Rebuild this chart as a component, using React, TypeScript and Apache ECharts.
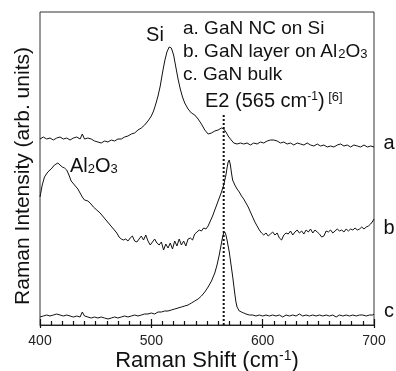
import React, { useEffect, useRef } from "react";
import * as echarts from "echarts";

const xRange = [400, 700];
const xTickStep = 100;
const yRange = [0, 313];
const e2Shift = 565;
const e2LineTop = 212;

const legendLines = ["a. GaN NC on Si", "b. GaN layer on Al", "c. GaN bulk"];
const curveTags = ["a", "b", "c"];

const specA: [number, number][] = [
  [400,186],[403,188],[406,186],[409,187],[412,185],[415,187],[418,188],[421,186],[424,187],[427,185],[430,187],[433,188],[436,186],[438,191],[440,186],[443,187],[446,186],[449,184],[452,183],[455,182],[458,184],[461,183],[464,185],[467,184],[470,186],[473,186],[476,188],[479,189],[482,191],[485,192],[488,195],[491,197],[494,200],[497,204],[500,209],[502,214],[504,221],[506,229],[508,239],[510,252],[512,264],[514,273],[516,278],[518,277],[520,270],[522,258],[524,246],[526,236],[528,228],[530,222],[533,216],[536,212],[539,210],[542,206],[545,201],[548,195],[551,191],[554,192],[557,194],[560,195],[563,197],[565,196],[567,193],[569,189],[571,186],[574,182],[577,181],[580,182],[583,181],[586,182],[589,180],[592,182],[595,181],[598,183],[601,182],[604,184],[607,185],[610,185],[613,184],[616,182],[619,183],[622,181],[625,182],[628,180],[631,182],[634,181],[637,180],[640,182],[643,180],[646,179],[649,181],[652,179],[655,180],[658,178],[661,179],[664,178],[667,180],[670,181],[673,179],[676,180],[679,178],[682,180],[685,179],[688,178],[691,180],[694,178],[697,179],[700,178]
];

const specB: [number, number][] = [
  [400,128],[402,140],[404,148],[407,153],[410,156],[413,160],[416,162],[418,160],[420,158],[422,157],[424,155],[426,150],[428,144],[431,140],[434,136],[436,132],[438,128],[440,125],[443,124],[445,122],[448,118],[451,115],[454,112],[457,108],[460,104],[463,100],[466,96],[469,92],[471,88],[473,86],[475,85],[477,86],[479,84],[481,87],[483,89],[485,84],[487,83],[489,86],[491,89],[493,85],[495,90],[497,84],[499,80],[501,83],[503,86],[505,82],[507,80],[509,83],[511,75],[513,81],[515,77],[517,82],[519,76],[521,84],[523,79],[525,86],[527,80],[529,84],[531,79],[533,86],[535,87],[537,85],[539,91],[541,93],[543,95],[545,94],[547,97],[549,96],[551,99],[553,104],[555,109],[557,115],[559,121],[561,127],[563,133],[565,140],[567,150],[568,157],[569,163],[570,165],[571,160],[572,152],[573,145],[575,140],[577,136],[579,133],[581,129],[583,126],[585,122],[587,118],[589,113],[591,108],[593,103],[595,99],[597,95],[599,92],[601,90],[603,92],[605,89],[607,91],[609,93],[611,90],[613,92],[615,87],[617,85],[619,90],[621,92],[623,91],[625,94],[627,90],[629,93],[631,95],[633,92],[635,94],[637,91],[639,95],[641,93],[643,96],[645,92],[647,95],[649,93],[651,91],[653,88],[655,89],[657,94],[659,93],[661,95],[663,92],[665,94],[667,96],[669,94],[671,95],[673,93],[675,96],[677,94],[679,96],[681,95],[683,97],[685,95],[687,96],[689,98],[691,96],[693,98],[695,99],[697,101],[699,104],[700,106]
];

const specC: [number, number][] = [
  [400,8],[403,9],[406,10],[409,9],[412,10],[415,11],[418,10],[421,9],[424,10],[427,9],[430,8],[433,9],[436,8],[438,13],[440,9],[443,8],[446,7],[449,8],[452,7],[455,8],[458,7],[461,6],[464,7],[467,8],[470,7],[473,8],[476,9],[479,8],[482,9],[485,10],[488,9],[491,10],[494,11],[497,11],[500,12],[503,11],[506,13],[509,13],[512,14],[515,14],[518,15],[521,16],[524,17],[527,18],[530,19],[533,20],[536,22],[539,24],[542,26],[545,29],[548,33],[551,38],[554,44],[557,52],[559,60],[561,70],[563,82],[564,88],[565,92],[566,93],[567,90],[568,85],[569,79],[570,73],[571,65],[572,57],[573,49],[574,40],[575,31],[576,23],[577,18],[579,14],[581,13],[583,12],[585,11],[588,10],[591,10],[594,9],[597,10],[600,9],[603,10],[606,9],[609,10],[612,9],[615,10],[618,8],[621,10],[624,9],[627,10],[630,9],[633,11],[636,9],[639,10],[642,9],[645,10],[648,9],[651,10],[654,9],[657,10],[660,9],[663,10],[666,8],[669,10],[672,9],[675,10],[678,9],[681,10],[684,9],[687,10],[690,10],[693,9],[696,10],[699,10],[700,11]
];

const FONT = "'Liberation Sans', Arial, Helvetica, sans-serif";
const INK = "#111";

export default function App() {
  const ref = useRef<HTMLDivElement>(null);
  useEffect(() => {
    const chart = echarts.init(ref.current!, null, { renderer: "svg" });
    const lineStyle = { color: "#111", width: 1 };
    const mkSeries = (data: [number, number][]) => ({
      type: "line",
      data,
      showSymbol: false,
      symbol: "none",
      lineStyle,
      silent: true,
    });
    const n = (s: number) => ({ fontSize: s, fontFamily: FONT, fill: INK });
    const sub = (s: number) => ({ fontSize: s, fontFamily: FONT, fill: INK, verticalAlign: "bottom" });
    const sup = (s: number) => ({ fontSize: s, fontFamily: FONT, fill: INK, verticalAlign: "top" });
    const legendY = [27, 50, 73];
    const tagY = [142, 227, 310];
    const graphics: any[] = [];
    legendLines.forEach((t, i) => {
      graphics.push({
        type: "text",
        x: 183,
        y: legendY[i],
        style: {
          text: i === 1 ? `{n|${t}}{s|2}{n|O}{s|3}` : `{n|${t}}`,
          rich: { n: n(19), s: sub(13) },
          align: "left",
          verticalAlign: "middle",
        },
      });
    });
    curveTags.forEach((t, i) => {
      graphics.push({
        type: "text",
        x: 389,
        y: tagY[i],
        style: { text: t, fontSize: 20, fontFamily: FONT, fill: INK, align: "center", verticalAlign: "middle" },
      });
    });
    graphics.push(
      {
        type: "text",
        x: 155,
        y: 34,
        style: { text: "Si", fontSize: 20, fontFamily: FONT, fill: INK, align: "center", verticalAlign: "middle" },
      },
      {
        type: "text",
        x: 70,
        y: 165,
        style: {
          text: "{n|Al}{s|2}{n|O}{s|3}",
          rich: { n: n(20), s: sub(13) },
          align: "left",
          verticalAlign: "middle",
        },
      },
      {
        type: "text",
        x: 205,
        y: 100,
        style: {
          text: "{n|E2 (565 cm}{p|-1}{n|)}{q| [6]}",
          rich: { n: n(20), p: sup(12), q: sup(13) },
          align: "left",
          verticalAlign: "middle",
        },
      },
      {
        type: "text",
        x: 207,
        y: 359,
        style: {
          text: "{n|Raman Shift (cm}{p|-1}{n|)}",
          rich: { n: n(22), p: sup(14) },
          align: "center",
          verticalAlign: "middle",
        },
      },
      {
        type: "text",
        x: 21,
        y: 176,
        rotation: Math.PI / 2,
        style: {
          text: "Raman Intensity (arb. units)",
          fontSize: 21,
          fontFamily: FONT,
          fill: INK,
          align: "center",
          verticalAlign: "middle",
        },
      }
    );

    chart.setOption({
      animation: false,
      grid: {
        left: 40,
        right: 22,
        top: 12,
        bottom: 46,
        show: true,
        borderColor: "#333",
        borderWidth: 1,
        backgroundColor: "transparent",
      },
      xAxis: [
        {
          type: "value",
          min: xRange[0],
          max: xRange[1],
          interval: xTickStep,
          position: "bottom",
          axisLine: { show: true, lineStyle: { color: "#222", width: 1 } },
          axisTick: { show: true, inside: true, length: 6, lineStyle: { color: "#111", width: 1.2 } },
          minorTick: { show: true, splitNumber: 10, length: 4, lineStyle: { color: "#111", width: 1.2 } },
          axisLabel: { show: true, fontSize: 14, fontFamily: FONT, color: "#222", margin: 8 },
          splitLine: { show: false },
        },
        {
          type: "value",
          min: xRange[0],
          max: xRange[1],
          interval: xTickStep,
          position: "bottom",
          axisLine: { show: false },
          axisTick: { show: true, inside: false, length: 3, lineStyle: { color: "#111", width: 1.2 } },
          axisLabel: { show: false },
          splitLine: { show: false },
        },
      ],
      yAxis: {
        type: "value",
        min: yRange[0],
        max: yRange[1],
        show: false,
        splitLine: { show: false },
      },
      series: [
        mkSeries(specA),
        mkSeries(specB),
        mkSeries(specC),
        {
          type: "line",
          data: [
            [e2Shift, yRange[0]],
            [e2Shift, e2LineTop],
          ],
          showSymbol: false,
          symbol: "none",
          lineStyle: { color: "#111", width: 2, type: [2, 2] },
          silent: true,
        },
      ],
      graphic: graphics,
    });
    return () => chart.dispose();
  }, []);
  return <div ref={ref} style={{ position: "fixed", left: 0, top: 0, width: 396, height: 371 }} />;
}
